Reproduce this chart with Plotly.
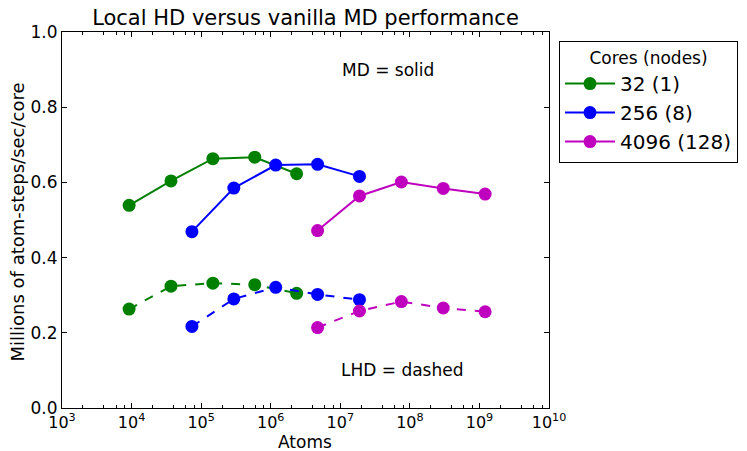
import plotly.graph_objects as go

# Data
atoms_32 = [9216, 36864, 147456, 589824, 2359296]
atoms_256 = [73728, 294912, 1179648, 4718592, 18874368]
atoms_4096 = [4718592, 18874368, 75497472, 301989888, 1207959552]

md_32 = [0.539, 0.604, 0.663, 0.667, 0.623]
md_256 = [0.469, 0.585, 0.646, 0.648, 0.616]
md_4096 = [0.472, 0.564, 0.601, 0.584, 0.569]

lhd_32 = [0.263, 0.324, 0.332, 0.328, 0.305]
lhd_256 = [0.217, 0.290, 0.321, 0.302, 0.288]
lhd_4096 = [0.214, 0.258, 0.283, 0.266, 0.256]

labels = ["32 (1)", "256 (8)", "4096 (128)"]
colors = ["#008000", "#0000ff", "#bf00bf"]

x_tickvals = [1e3, 1e4, 1e5, 1e6, 1e7, 1e8, 1e9, 1e10]
x_ticktext = ["10<sup>%d</sup>" % k for k in range(3, 11)]
x_minor = [m * 10 ** k for k in range(3, 10) for m in (2, 4, 6, 8)]
y_tickvals = [0.0, 0.2, 0.4, 0.6, 0.8, 1.0]
y_ticktext = ["0.0", "0.2", "0.4", "0.6", "0.8", "1.0"]

fig = go.Figure()
series = [(atoms_32, md_32, lhd_32), (atoms_256, md_256, lhd_256), (atoms_4096, md_4096, lhd_4096)]
for (xs, md, lhd), lab, col in zip(series, labels, colors):
    fig.add_trace(go.Scatter(x=xs, y=md, mode="lines+markers", name=lab,
                             line=dict(color=col, width=2),
                             marker=dict(color=col, size=13)))
for (xs, md, lhd), lab, col in zip(series, labels, colors):
    fig.add_trace(go.Scatter(x=xs, y=lhd, mode="lines+markers", name=lab, showlegend=False,
                             line=dict(color=col, width=2, dash="dash"),
                             marker=dict(color=col, size=13)))

font = "DejaVu Sans"
L, R, T, B = 62, 549, 32, 408
W, H = 747, 451
fig.update_layout(
    width=W, height=H,
    margin=dict(l=L, r=W - R, t=T, b=H - B, autoexpand=False),
    paper_bgcolor="white", plot_bgcolor="white",
    font=dict(family=font, color="black", size=17),
    title=dict(text="Local HD versus vanilla MD performance", x=305.5 / W,
               xanchor="center", y=1 - 18 / H, yanchor="middle",
               font=dict(size=21, family=font)),
    showlegend=True,
    legend=dict(title=dict(text="Cores (nodes)", font=dict(size=17), side="top center"),
                x=(559 - L) / (R - L), y=(B - 41) / (B - T), xanchor="left", yanchor="top",
                bordercolor="black", borderwidth=1, bgcolor="white",
                font=dict(size=20), itemwidth=50),
    xaxis=dict(type="log", range=[3, 10], tickvals=x_tickvals, ticktext=x_ticktext,
               ticks="inside", ticklen=5, tickcolor="black", mirror="ticks",
               showline=True, linecolor="black", linewidth=1, showgrid=False, zeroline=False,
               minor=dict(ticks="inside", ticklen=3, tickcolor="black", showgrid=False,
                          tickmode="array", tickvals=x_minor),
               tickfont=dict(size=16), automargin=False),
    yaxis=dict(range=[0, 1], tickvals=y_tickvals, ticktext=y_ticktext,
               ticks="inside", ticklen=5, tickcolor="black", mirror="ticks",
               showline=True, linecolor="black", linewidth=1, showgrid=False, zeroline=False,
               tickfont=dict(size=17), automargin=False),
    annotations=[
        dict(text="MD = solid", xref="paper", yref="paper", x=0.669, y=0.900,
             xanchor="center", yanchor="middle", showarrow=False, font=dict(size=17)),
        dict(text="LHD = dashed", xref="paper", yref="paper", x=0.700, y=0.101,
             xanchor="center", yanchor="middle", showarrow=False, font=dict(size=17)),
        dict(text="Atoms", xref="paper", yref="paper", x=(305 - L) / (R - L), y=0,
             yshift=-(442 - B), yanchor="middle", xanchor="center",
             showarrow=False, font=dict(size=17)),
        dict(text="Millions of atom-steps/sec/core", xref="paper", yref="paper",
             x=0, xshift=-(L - 17.5), y=(B - 222) / (B - T), xanchor="center", yanchor="middle",
             textangle=-90, showarrow=False, font=dict(size=18)),
    ],
)

fig.write_html("out.html", config={"displayModeBar": False},
               post_script="document.body.style.margin='0px';document.body.style.overflow='hidden';")
